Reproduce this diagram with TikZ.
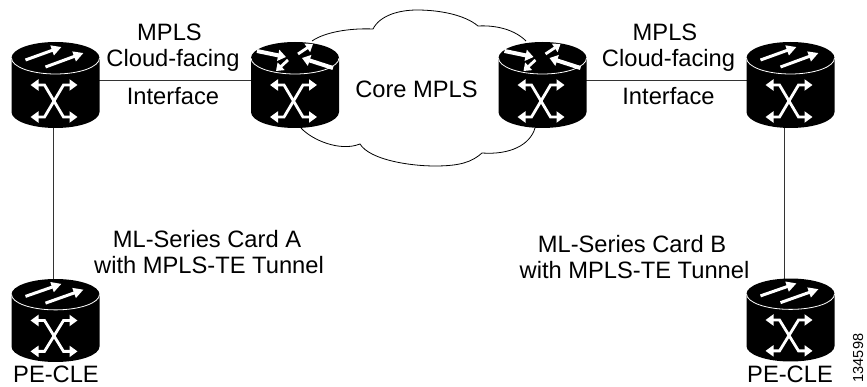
\documentclass[tikz,border=0pt]{standalone}
\usepackage{fontspec}
\setmainfont{Liberation Sans}
\usetikzlibrary{arrows.meta,backgrounds}
\tikzset{
  devbox/.style={rectangle,inner sep=0pt,minimum width=88pt,minimum height=86pt},
  lbl/.style={inner sep=0pt,font=\fontsize{23.7}{23.7}\selectfont,anchor=base},
  num lbl/.style={inner sep=0pt,font=\fontsize{14.5}{14.5}\selectfont,anchor=center,rotate=90},
  body/.style={fill=black,draw=none},
  rim/.style={draw=white,line width=0.8pt},
  xarrow/.style={draw=white,line width=2.8pt,{Triangle[length=8pt,width=11pt]}-{Triangle[length=8pt,width=11pt]}},
  flow/.style={draw=white,line width=3pt,-{Triangle[length=10pt,width=10pt]}},
  flowthick/.style={draw=white,line width=4pt,-{Triangle[length=8pt,width=11pt]}},
  flowthin/.style={draw=white,line width=2.8pt,-{Triangle[length=7pt,width=10pt]}},
  link/.style={draw=black!80,line width=0.9pt},
  cloudline/.style={draw=black,line width=0.8pt}
}
\newcommand{\devshape}{%
  \path[body] (-44,-27) .. controls (-44,-35.84) and (-24.3,-43) .. (0,-43)
    .. controls (24.3,-43) and (44,-35.84) .. (44,-27) -- (44,27)
    .. controls (44,35.84) and (24.3,43) .. (0,43)
    .. controls (-24.3,43) and (-44,35.84) .. (-44,27) -- cycle;
  \path[rim] (-44,-27) .. controls (-44,-18.16) and (-24.3,-11) .. (0,-11)
    .. controls (24.3,-11) and (44,-18.16) .. (44,-27);
  \path[xarrow] (-25,0) -- (-11,0) -- (8,32) -- (22,32);
  \path[xarrow] (22,0) -- (8,0) -- (-11,32) -- (-25,32);
}
% name, x, y, yscale, x offset of the vertical link
\newcommand{\edgedev}[5]{%
  \node[devbox] (#1) at (#2,#3) {};
  \coordinate (#1-p) at (#2+#5,#3-5);
  \begin{scope}[shift={(#2,#3)},yscale=#4]
    \devshape
    \path[flow] (-30,-25) -- (6,-38);
    \path[flow] (-10,-18) -- (28,-32);
  \end{scope}}
\newcommand{\coredev}[3]{%
  \node[devbox] (#1) at (#2,#3) {};
  \coordinate (#1-p) at (#2,#3-5);
  \begin{scope}[shift={(#2,#3)}]
    \devshape
    \path[flowthick] (-38,-34) -- (-9,-28);
    \path[flowthin] (3,-31) -- (18,-41);
    \path[flowthick] (38,-17) -- (7,-27);
    \path[flowthin] (-7,-25) -- (-19,-14);
  \end{scope}}
\begin{document}
\begin{tikzpicture}[x=1pt,y=-1pt]
\useasboundingbox (0,0) rectangle (867,387);
% cloud
\path[cloudline] (312,41) .. controls (325,32) and (350,28) .. (373,29)
  .. controls (380,15) and (400,10) .. (417,10)
  .. controls (440,10) and (465,15) .. (478,26)
  .. controls (497,25) and (515,30) .. (526,41);
\path[cloudline] (301,128) .. controls (312,140) and (340,152) .. (360,144)
  .. controls (370,160) and (410,166) .. (435,166)
  .. controls (460,166) and (472,162) .. (482,153)
  .. controls (510,155) and (530,145) .. (535,128);
% devices
\edgedev{ta}{55.5}{85}{1}{-2.5}
\coredev{ca}{295}{85}
\coredev{cb}{542.5}{85}
\edgedev{tb}{790.5}{85}{1}{-6.5}
\edgedev{ba}{55.5}{320.5}{0.965}{-2.5}
\edgedev{bb}{790.5}{320}{0.965}{-6.5}
% connectors
\begin{scope}[on background layer]
  \draw[link] (ta-p) -- (ca-p);
  \draw[link] (cb-p) -- (tb-p);
  \draw[link] (ta-p) -- (ba-p);
  \draw[link] (tb-p) -- (bb-p);
\end{scope}
% labels
\node[lbl] (l1) at (169.5,41) {MPLS};
\node[lbl] (l2) at (173,67) {Cloud-facing};
\node[lbl] (l3) at (173,105) {Interface};
\node[lbl] (core) at (416.5,98) {Core MPLS};
\node[lbl] (r1) at (665,41) {MPLS};
\node[lbl] (r2) at (668.5,67) {Cloud-facing};
\node[lbl] (r3) at (668.5,105) {Interface};
\node[lbl] (ma1) at (207,248) {ML-Series Card A};
\node[lbl] (ma2) at (209,273) {with MPLS-TE Tunnel};
\node[lbl] (mb1) at (632,253) {ML-Series Card B};
\node[lbl] (mb2) at (634.5,279) {with MPLS-TE Tunnel};
\node[lbl] (pa) at (56,382) {PE-CLE};
\node[lbl] (pb) at (790,382) {PE-CLE};
\node[num lbl] (num) at (858,358) {134598};
\end{tikzpicture}
\end{document}
